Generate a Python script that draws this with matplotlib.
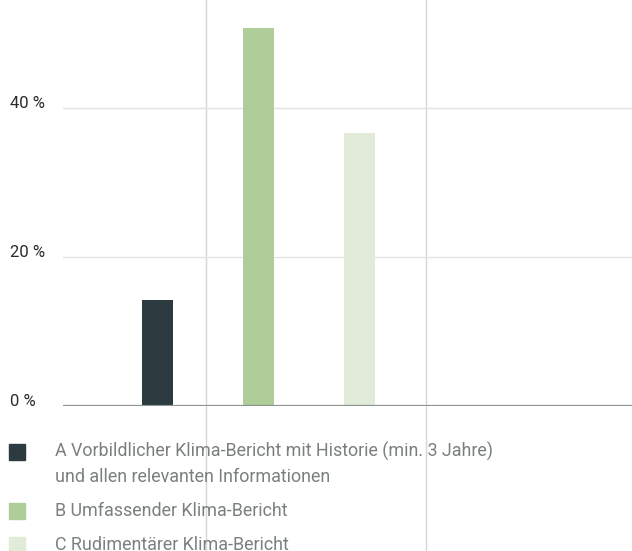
"""Klima-Bericht share chart: three bars, percent axis, legend below."""

import matplotlib

matplotlib.use("Agg")
import matplotlib.pyplot as plt
from matplotlib.lines import Line2D
from matplotlib.patches import Rectangle
from matplotlib.transforms import blended_transform_factory

# data
categories = ["A", "B", "C"]
shares = [14.2, 50.8, 36.7]
legend_labels = [
    "A Vorbildlicher Klima-Bericht mit Historie (min. 3 Jahre)\nund allen relevanten Informationen",
    "B Umfassender Klima-Bericht",
    "C Rudimentärer Klima-Bericht",
]
y_ticks = [0, 20, 40]
y_tick_labels = ["0 %", "20 %", "40 %"]

COLORS = ["#2c3b3f", "#aecd98", "#e2ebd8"]
W, H = 632, 551
TICK_FONT = ["Roboto", "DejaVu Sans"]
LEGEND_FONT = ["Roboto", "DejaVu Sans"]

fig = plt.figure(figsize=(W / 100, H / 100), dpi=100)
# axes: x 63..632 px, baseline at 405.7 px from top
ax = fig.add_axes([63 / W, 1 - 405.7 / H, 1 - 63 / W, 405.7 / H])
ax.set_facecolor("none")

xs = list(range(len(categories)))
ax.bar(xs, shares, width=0.307, color=COLORS, zorder=3)
ax.set_xlim(-0.936, 4.698)
ax.set_ylim(0, 54.5)

for s in ax.spines.values():
    s.set_visible(False)
ax.set_xticks([])
ax.set_yticks([])

# y labels sit on their grid lines, flush left at the figure edge
trans = blended_transform_factory(fig.transFigure, ax.transData)
for yv, lab in zip(y_ticks, y_tick_labels):
    ax.text(10 / W, yv, lab, transform=trans, fontsize=12, color="#2b2b2b",
            family=TICK_FONT, ha="left", va="baseline", clip_on=False)

for yv in y_ticks[1:]:
    ax.axhline(yv, color="#e3e3e3", lw=1.0, zorder=1)
ax.axhline(0, color="#8c9393", lw=1.6, zorder=4)

# full-height vertical rules
for xp in (206, 425.5):
    fig.add_artist(Line2D([xp / W, xp / W], [0, 1], color="#d6d6d6", lw=1.0, zorder=0))

# legend below the chart
sq = 16
rows_y = [452, 511, 545]
text_y = [464, 511, 545]
for lab, col, yc, yt in zip(legend_labels, COLORS, rows_y, text_y):
    fig.add_artist(Rectangle((9 / W, 1 - (yc + sq / 2) / H), sq / W, sq / H,
                             color=col, transform=fig.transFigure))
    fig.text(55 / W, 1 - yt / H, lab, fontsize=12.9, color="#7a7f7f",
             family=LEGEND_FONT, va="center", linespacing=1.55)

fig.savefig("out.png", dpi=100)
